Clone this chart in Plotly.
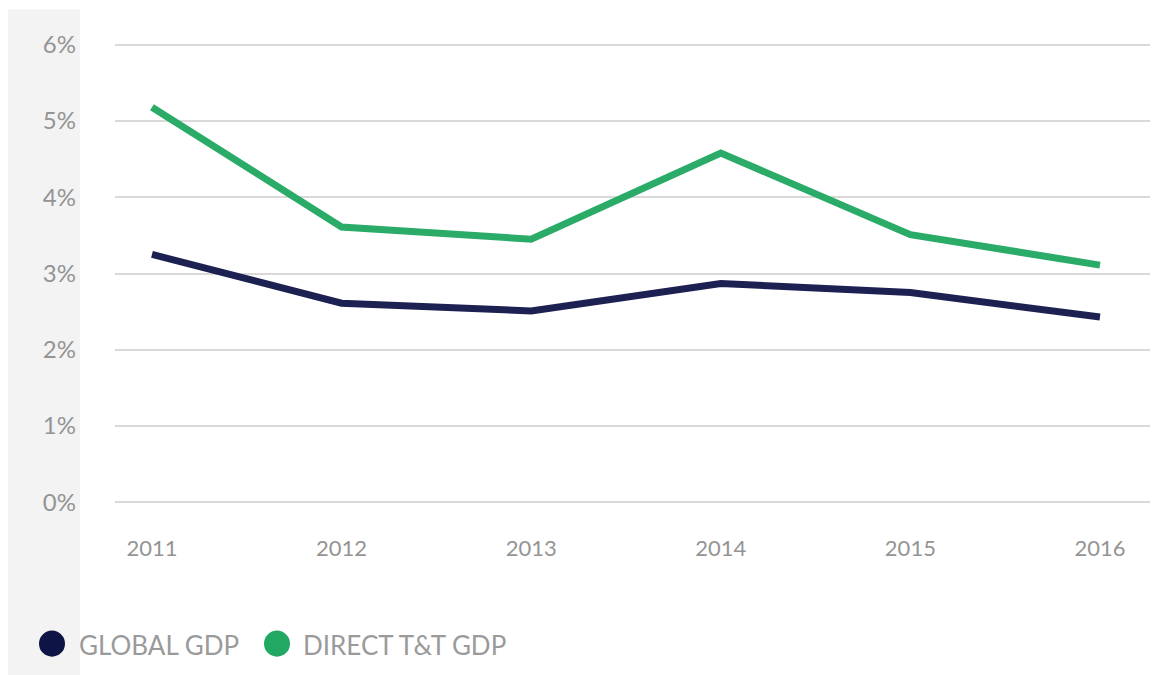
import plotly.graph_objects as go

years = [2011, 2012, 2013, 2014, 2015, 2016]
global_gdp = [3.25, 2.61, 2.51, 2.87, 2.75, 2.43]
direct_tt_gdp = [5.18, 3.61, 3.45, 4.58, 3.51, 3.11]
y_ticks = [0, 1, 2, 3, 4, 5, 6]
y_tick_labels = ["0%", "1%", "2%", "3%", "4%", "5%", "6%"]
series_names = ["GLOBAL GDP", "DIRECT T&T GDP"]
navy = "#1c2152"
green = "#2aac68"
tick_color = "#949494"
font_family = "Lato, 'Open Sans', sans-serif"

fig = go.Figure()
fig.add_trace(go.Scatter(x=years, y=direct_tt_gdp, mode="lines", name=series_names[1],
                         line=dict(color=green, width=7), showlegend=False))
fig.add_trace(go.Scatter(x=years, y=global_gdp, mode="lines", name=series_names[0],
                         line=dict(color=navy, width=7), showlegend=False))

OFF = 8  # page body margin
W, H = 1158 - OFF, 675 - OFF
plot_top, plot_bottom = 37.4, 509.6   # screen px
ml, mr = 115 - OFF, 0
mt = plot_top - OFF
mb = H - (plot_bottom - OFF)
pw, ph = W - ml - mr, H - mt - mb

def px_to_paper_x(px):
    return (px - OFF - ml) / pw

def px_to_paper_y(py):
    return (H - mb - (py - OFF)) / ph

shapes = [
    dict(type="rect", xref="paper", yref="paper", layer="below",
         x0=px_to_paper_x(8), x1=px_to_paper_x(80),
         y0=px_to_paper_y(675), y1=px_to_paper_y(10),
         fillcolor="#f3f3f3", line=dict(width=0)),
]
annotations = []
legend_items = [(series_names[0], "#0e1446", 52, 77), (series_names[1], "#22a862", 277, 301)]
for name, col, cx, tx in legend_items:
    r = 13
    shapes.append(dict(type="circle", xref="paper", yref="paper",
                       x0=px_to_paper_x(cx - r), x1=px_to_paper_x(cx + r),
                       y0=px_to_paper_y(643 + r), y1=px_to_paper_y(643 - r),
                       fillcolor=col, line=dict(width=0)))
    annotations.append(dict(xref="paper", yref="paper", x=px_to_paper_x(tx), y=px_to_paper_y(644),
                            xanchor="left", yanchor="middle", showarrow=False, text=name,
                            font=dict(family=font_family, size=26, color="#9a9a9a")))

fig.update_layout(
    width=W, height=H,
    margin=dict(l=ml, r=mr, t=mt, b=mb, autoexpand=False),
    paper_bgcolor="white", plot_bgcolor="white",
    font=dict(family=font_family, color=tick_color, size=22),
    shapes=shapes, annotations=annotations,
    xaxis=dict(range=[2010.805, 2016.306], tickvals=years, ticktext=[str(y) for y in years],
               showgrid=False, zeroline=False, showline=False, ticks="",
               ticklabelstandoff=23, tickfont=dict(size=22, color=tick_color)),
    yaxis=dict(range=[-0.1, 6.1], tickvals=y_ticks, ticktext=y_tick_labels,
               showgrid=True, gridcolor="#d9d9d9", gridwidth=2, zeroline=False,
               showline=False, ticks="", ticklabelstandoff=38,
               tickfont=dict(size=24, color=tick_color)),
    showlegend=False,
)

fig.write_html("out.html")
